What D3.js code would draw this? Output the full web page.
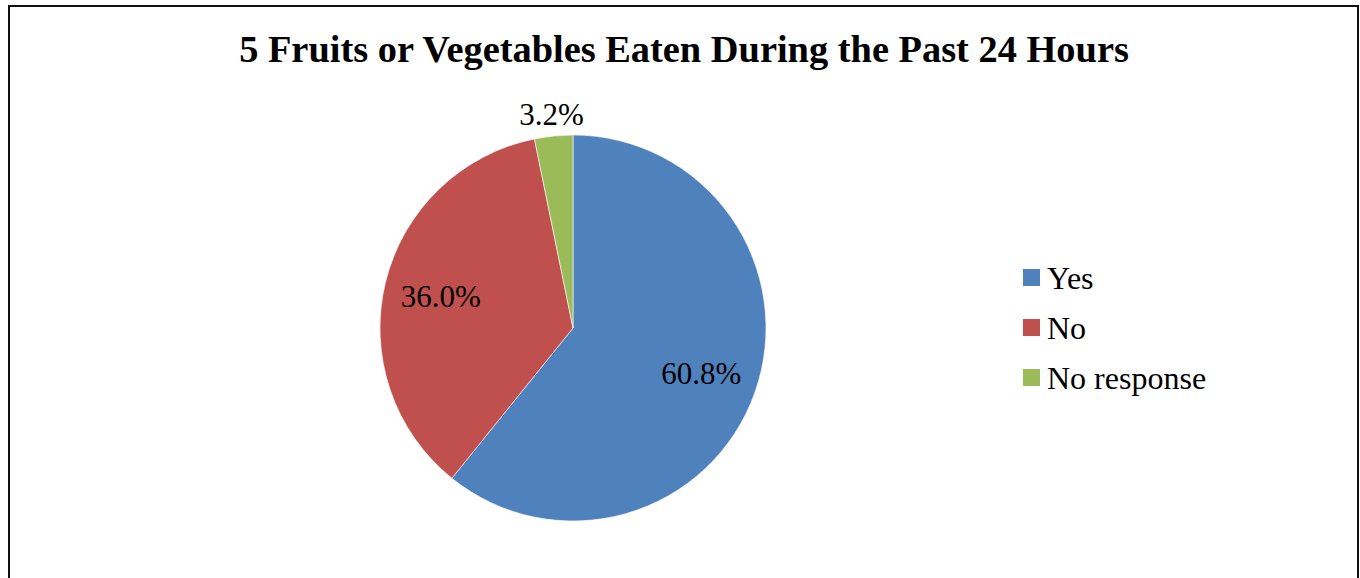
<!DOCTYPE html>
<html>
<head>
<meta charset="utf-8">
<script src="https://cdn.jsdelivr.net/npm/d3@7"></script>
<style>
  body { margin: 0; background: #fff; }
  svg text { font-family: "Liberation Serif", "Times New Roman", serif; }
</style>
</head>
<body>
<script>
// data
var categories = ["Yes", "No", "No response"];
var values = [60.8, 36.0, 3.2];
var colors = ["#4F81BD", "#C0504D", "#9BBB59"];
var title = "5 Fruits or Vegetables Eaten During the Past 24 Hours";

var width = 1360, height = 578;
var serif = "'Liberation Serif', 'Times New Roman', serif";

var svg = d3.select("body").append("svg")
            .attr("width", width)
            .attr("height", height);

// chart frame
svg.append("rect")
   .attr("x", 9).attr("y", 6)
   .attr("width", 1349).attr("height", 620)
   .attr("fill", "#fff")
   .attr("stroke", "#111")
   .attr("stroke-width", 2);

svg.append("text")
   .attr("x", 684)
   .attr("y", 62)
   .attr("text-anchor", "middle")
   .style("font-family", serif)
   .style("font-size", "38.4px")
   .style("font-weight", "bold")
   .text(title);

var data = categories.map((c, i) => ({name: c, value: values[i], color: colors[i]}));

var cx = 573, cy = 328, radius = 193;

var pie = d3.pie().sort(null).value(d => d.value);
var arc = d3.arc().innerRadius(0).outerRadius(radius);

var g = svg.append("g").attr("transform", "translate(" + cx + "," + cy + ")");

var arcs = pie(data);

g.selectAll("path")
 .data(arcs)
 .enter()
 .append("path")
 .attr("d", arc)
 .attr("fill", d => d.data.color)
 .attr("stroke", "#fff")
 .attr("stroke-width", 0.6);

// labels: inside for big slices, outside for tiny ones
var total = d3.sum(values);
g.selectAll("text.lbl")
 .data(arcs)
 .enter()
 .append("text")
 .attr("class", "lbl")
 .attr("text-anchor", "middle")
 .attr("dy", "0.35em")
 .style("font-family", serif)
 .style("font-size", "31px")
 .attr("transform", d => {
   var r = d.data.value / total < 0.05 ? radius + 22 : radius * 0.705;
   var a = (d.startAngle + d.endAngle) / 2;
   return "translate(" + (Math.sin(a) * r) + "," + (-Math.cos(a) * r) + ")";
 })
 .text(d => d.data.value.toFixed(1) + "%");

// legend
var legend = svg.selectAll(".legend")
                .data(data)
                .enter()
                .append("g")
                .attr("class", "legend")
                .attr("transform", (d, i) => "translate(1023," + (269 + i * 50) + ")");

legend.append("rect")
      .attr("width", 17).attr("height", 17)
      .attr("fill", d => d.color);

legend.append("text")
      .attr("x", 24)
      .attr("y", 20)
      .style("font-family", serif)
      .style("font-size", "32px")
      .text(d => d.name);
</script>
</body>
</html>
